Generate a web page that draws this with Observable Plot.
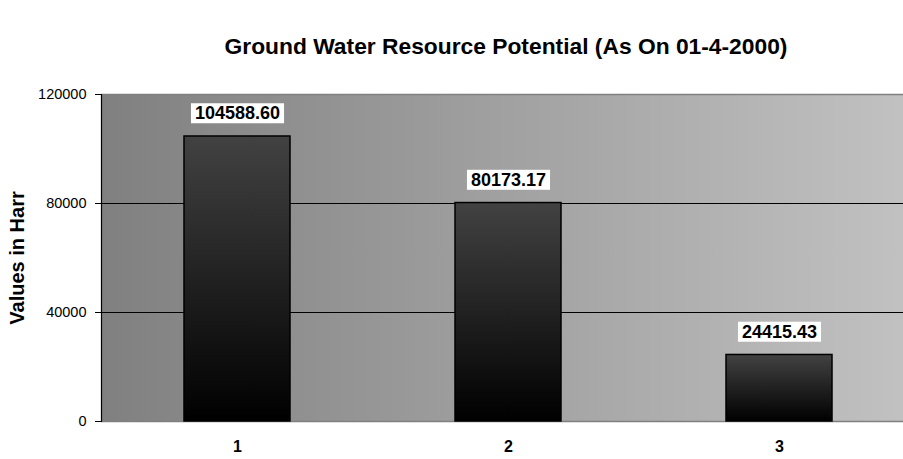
<!DOCTYPE html>
<html>
<head>
<meta charset="utf-8">
<script src="https://cdn.jsdelivr.net/npm/d3@7"></script>
<script src="https://cdn.jsdelivr.net/npm/@observablehq/plot@0.6"></script>
<style>
  body { margin: 0; background: #fff; font-family: "Liberation Sans", Arial, sans-serif; }
  #wrap { position: relative; width: 903px; height: 459px; overflow: hidden; }
  #title { position: absolute; left: 0; width: 1012px; top: 33px; text-align: center;
           font: bold 22.8px "Liberation Sans", Arial, sans-serif; color: #000; line-height: 26px; }
  svg { display: block; }
</style>
</head>
<body>
<div id="wrap"><div id="title">Ground Water Resource Potential (As On 01-4-2000)</div></div>
<script>
const categories = ["1", "2", "3"];
const values = [104588.60, 80173.17, 24415.43];
const labels = ["104588.60", "80173.17", "24415.43"];
const yTicks = [0, 40000, 80000, 120000];
const gridTicks = [40000, 80000];
const yLabel = "Values in Harr";

const data = categories.map((c, i) => ({cat: c, value: values[i], label: labels[i]}));

const defs = () => {
  const d = d3.create("svg:defs");
  const bg = d.append("linearGradient").attr("id", "bgGrad").attr("x1", 0).attr("x2", 1).attr("y1", 0).attr("y2", 0);
  bg.append("stop").attr("offset", "0%").attr("stop-color", "#808080");
  bg.append("stop").attr("offset", "100%").attr("stop-color", "#c2c2c2");
  const bar = d.append("linearGradient").attr("id", "barGrad").attr("x1", 0).attr("x2", 0).attr("y1", 0).attr("y2", 1);
  bar.append("stop").attr("offset", "0%").attr("stop-color", "#424242");
  bar.append("stop").attr("offset", "100%").attr("stop-color", "#000000");
  return d.node();
};

const chart = Plot.plot({
  width: 903,
  height: 459,
  marginLeft: 101,
  marginRight: -11,
  marginTop: 94,
  marginBottom: 38,
  style: {fontFamily: "'Liberation Sans', Arial, sans-serif", background: "transparent", overflow: "hidden"},
  x: {domain: categories, paddingInner: 0.61, paddingOuter: 0.305, label: null},
  y: {domain: [0, 120000], label: null},
  marks: [
    defs,
    Plot.frame({fill: "url(#bgGrad)", stroke: null}),
    Plot.ruleY([120000, 0], {stroke: "#808080", strokeWidth: 1.5}),
    Plot.ruleY(gridTicks, {stroke: "#000", strokeWidth: 1}),
    Plot.barY(data, {x: "cat", y: "value", fill: "url(#barGrad)", stroke: "#000", strokeWidth: 1.5}),
    Plot.frame({anchor: "left", stroke: "#000", strokeWidth: 1.2}),
    Plot.axisY({ticks: yTicks, tickSize: 6, tickPadding: 9, tickFormat: d => String(d), fontSize: 14.5, stroke: "#000", label: null}),
    Plot.axisX({tickSize: 0, tickPadding: 19, fontSize: 16, fontWeight: "bold", label: null}),
    Plot.text(data, {x: "cat", y: "value", text: "label", dy: -23, fontSize: 18, fontWeight: "bold", fill: "#000", className: "vlabel"}),
    Plot.text([yLabel], {frameAnchor: "left", dx: -84, rotate: -90, fontSize: 20, fontWeight: "bold", fill: "#000", textAnchor: "middle"})
  ]
});
document.getElementById("wrap").appendChild(chart);

// white boxes behind value labels
d3.select(chart).selectAll("g.vlabel text").each(function() {
  const b = this.getBBox();
  const padX = 4, padY = 0;
  d3.select(this.parentNode).insert("rect", () => this)
    .attr("x", b.x - padX).attr("y", b.y - padY)
    .attr("width", b.width + 2 * padX).attr("height", b.height + 2 * padY)
    .attr("fill", "#fff")
    .attr("transform", this.getAttribute("transform"));
});
</script>
</body>
</html>
